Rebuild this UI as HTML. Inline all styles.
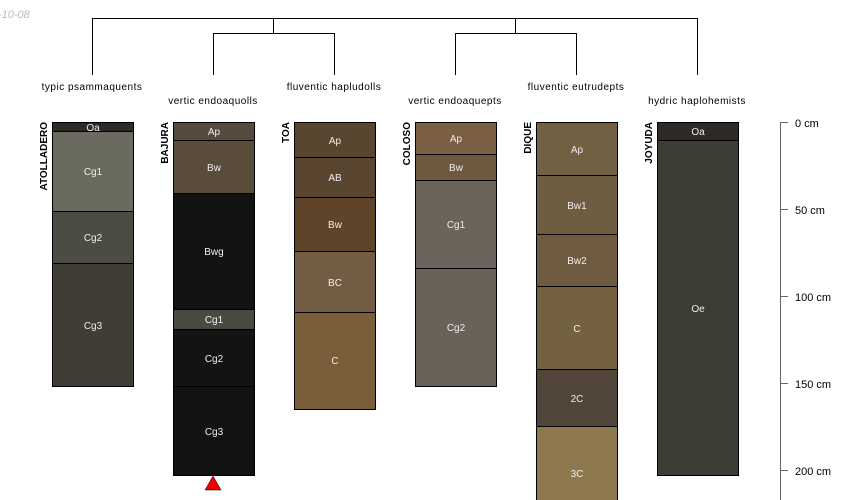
<!DOCTYPE html>
<html><head><meta charset="utf-8"><style>html,body{margin:0;padding:0;background:#fff}svg{display:block}</style></head><body>
<svg width="850" height="500" xmlns="http://www.w3.org/2000/svg" font-family="Liberation Sans, sans-serif">
<text x="-2" y="18" font-size="11" font-style="italic" fill="#bbb">-10-08</text>
<g stroke="#000" stroke-width="1" fill="none">
<path d="M92.5 75V18.5H697.5V75"/>
<path d="M273.5 18.5V33.5M213.5 75V33.5H334.5V75"/>
<path d="M515.5 18.5V33.5M455.5 75V33.5H576.5V75"/>
</g>
<g font-size="10" fill="#000" text-anchor="middle" letter-spacing="0.5">
<text x="92" y="90">typic psammaquents</text>
<text x="213" y="104">vertic endoaquolls</text>
<text x="334" y="90">fluventic hapludolls</text>
<text x="455" y="104">vertic endoaquepts</text>
<text x="576" y="90">fluventic eutrudepts</text>
<text x="697" y="104">hydric haplohemists</text>
</g>
<g font-size="10" font-weight="bold" fill="#000">
<text transform="translate(47,122) rotate(-90)" text-anchor="end">ATOLLADERO</text>
<text transform="translate(168,122) rotate(-90)" text-anchor="end">BAJURA</text>
<text transform="translate(289,122) rotate(-90)" text-anchor="end">TOA</text>
<text transform="translate(410,122) rotate(-90)" text-anchor="end">COLOSO</text>
<text transform="translate(531,122) rotate(-90)" text-anchor="end">DIQUE</text>
<text transform="translate(652,122) rotate(-90)" text-anchor="end">JOYUDA</text>
</g>
<g stroke="#000" stroke-width="1">
<rect x="52.5" y="122.5" width="81" height="9" fill="#2f2a26"/>
<rect x="52.5" y="131.5" width="81" height="80" fill="#6b6a5f"/>
<rect x="52.5" y="211.5" width="81" height="52" fill="#4c4c44"/>
<rect x="52.5" y="263.5" width="81" height="123" fill="#3f3d34"/>
<rect x="173.5" y="122.5" width="81" height="18" fill="#564a3c"/>
<rect x="173.5" y="140.5" width="81" height="53" fill="#5a4c3b"/>
<rect x="173.5" y="193.5" width="81" height="116" fill="#121413"/>
<rect x="173.5" y="309.5" width="81" height="20" fill="#4a4a42"/>
<rect x="173.5" y="329.5" width="81" height="57" fill="#121413"/>
<rect x="173.5" y="386.5" width="81" height="89" fill="#121413"/>
<rect x="294.5" y="122.5" width="81" height="35" fill="#594631"/>
<rect x="294.5" y="157.5" width="81" height="40" fill="#5a4531"/>
<rect x="294.5" y="197.5" width="81" height="54" fill="#5e4428"/>
<rect x="294.5" y="251.5" width="81" height="61" fill="#735c44"/>
<rect x="294.5" y="312.5" width="81" height="97" fill="#7a5e3a"/>
<rect x="415.5" y="122.5" width="81" height="32" fill="#7a5f42"/>
<rect x="415.5" y="154.5" width="81" height="26" fill="#6e5940"/>
<rect x="415.5" y="180.5" width="81" height="88" fill="#6b645a"/>
<rect x="415.5" y="268.5" width="81" height="118" fill="#6a6158"/>
<rect x="536.5" y="122.5" width="81" height="53" fill="#726043"/>
<rect x="536.5" y="175.5" width="81" height="59" fill="#6f5d42"/>
<rect x="536.5" y="234.5" width="81" height="52" fill="#6f5c40"/>
<rect x="536.5" y="286.5" width="81" height="83" fill="#736141"/>
<rect x="536.5" y="369.5" width="81" height="57" fill="#514639"/>
<rect x="536.5" y="426.5" width="81" height="80" fill="#8e784e"/>
<rect x="657.5" y="122.5" width="81" height="18" fill="#302a27"/>
<rect x="657.5" y="140.5" width="81" height="335" fill="#3e3d35"/>
</g>
<g font-size="10" fill="#eee" text-anchor="middle">
<text x="93" y="131">Oa</text><text x="93" y="175">Cg1</text><text x="93" y="241">Cg2</text><text x="93" y="329">Cg3</text>
<text x="214" y="135">Ap</text><text x="214" y="171">Bw</text><text x="214" y="255">Bwg</text><text x="214" y="323">Cg1</text><text x="214" y="362">Cg2</text><text x="214" y="435">Cg3</text>
<text x="335" y="144">Ap</text><text x="335" y="181">AB</text><text x="335" y="228">Bw</text><text x="335" y="286">BC</text><text x="335" y="364">C</text>
<text x="456" y="142">Ap</text><text x="456" y="171">Bw</text><text x="456" y="228">Cg1</text><text x="456" y="331">Cg2</text>
<text x="577" y="153">Ap</text><text x="577" y="209">Bw1</text><text x="577" y="264">Bw2</text><text x="577" y="332">C</text><text x="577" y="402">2C</text><text x="577" y="477">3C</text>
<text x="698" y="135">Oa</text><text x="698" y="312">Oe</text>
</g>
<polygon points="213,476 205,490 221,490" fill="#e00" stroke="#000" stroke-width="0.5"/>
<g stroke="#666" stroke-width="1">
<line x1="780.5" y1="122" x2="780.5" y2="500"/>
<line x1="780" y1="122.5" x2="788" y2="122.5"/>
<line x1="780" y1="209.5" x2="788" y2="209.5"/>
<line x1="780" y1="296.5" x2="788" y2="296.5"/>
<line x1="780" y1="383.5" x2="788" y2="383.5"/>
<line x1="780" y1="470.5" x2="788" y2="470.5"/>
</g>
<g font-size="11" fill="#000">
<text x="795" y="127">0 cm</text>
<text x="795" y="214">50 cm</text>
<text x="795" y="301">100 cm</text>
<text x="795" y="388">150 cm</text>
<text x="795" y="475">200 cm</text>
</g>
</svg>
</body></html>
